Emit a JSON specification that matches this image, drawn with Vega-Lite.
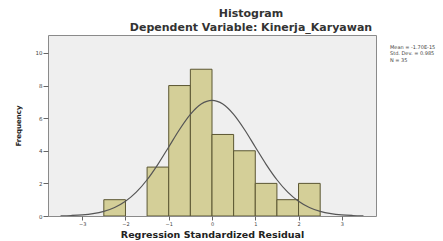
{
  "$schema": "https://vega.github.io/schema/vega-lite/v6.json",
  "width": 328,
  "height": 181,
  "autosize": {"type": "none"},
  "padding": {"left": 48, "top": 35, "right": 67, "bottom": 25},
  "background": "white",
  "view": {"fill": "#efefef", "stroke": "#8a8a8a", "strokeWidth": 1},
  "config": {
    "font": "DejaVu Sans",
    "axis": {"grid": false, "domain": false, "tickColor": "#666", "labelColor": "#444", "titleColor": "#222", "labelOverlap": false}
  },
  "title": {
    "text": "Histogram",
    "subtitle": "Dependent Variable: Kinerja_Karyawan",
    "anchor": "middle",
    "dx": 39,
    "offset": 2,
    "fontSize": 11,
    "fontWeight": "bold",
    "color": "#333",
    "subtitleFontSize": 11,
    "subtitleFontWeight": "bold",
    "subtitleColor": "#333",
    "subtitlePadding": 3
  },
  "datasets": {
    "bins": [
      {"start": -2.5, "end": -2.0, "count": 1},
      {"start": -1.5, "end": -1.0, "count": 3},
      {"start": -1.0, "end": -0.5, "count": 8},
      {"start": -0.5, "end": 0.0, "count": 9},
      {"start": 0.0, "end": 0.5, "count": 5},
      {"start": 0.5, "end": 1.0, "count": 4},
      {"start": 1.0, "end": 1.5, "count": 2},
      {"start": 1.5, "end": 2.0, "count": 1},
      {"start": 2.0, "end": 2.5, "count": 2}
    ],
    "curve": [
      {"x": -3.5, "y": 0.013},
      {"x": -3.25, "y": 0.032},
      {"x": -3.0, "y": 0.069},
      {"x": -2.75, "y": 0.144},
      {"x": -2.5, "y": 0.283},
      {"x": -2.25, "y": 0.521},
      {"x": -2.0, "y": 0.902},
      {"x": -1.75, "y": 1.462},
      {"x": -1.5, "y": 2.223},
      {"x": -1.25, "y": 3.169},
      {"x": -1.0, "y": 4.235},
      {"x": -0.75, "y": 5.306},
      {"x": -0.5, "y": 6.233},
      {"x": -0.25, "y": 6.865},
      {"x": 0.0, "y": 7.09},
      {"x": 0.25, "y": 6.865},
      {"x": 0.5, "y": 6.233},
      {"x": 0.75, "y": 5.306},
      {"x": 1.0, "y": 4.235},
      {"x": 1.25, "y": 3.169},
      {"x": 1.5, "y": 2.223},
      {"x": 1.75, "y": 1.462},
      {"x": 2.0, "y": 0.902},
      {"x": 2.25, "y": 0.521},
      {"x": 2.5, "y": 0.283},
      {"x": 2.75, "y": 0.144},
      {"x": 3.0, "y": 0.069},
      {"x": 3.25, "y": 0.032},
      {"x": 3.5, "y": 0.013}
    ],
    "stats": [
      {"stat": "Mean = -1.70E-15"},
      {"stat": "Std. Dev. = 0.985"},
      {"stat": "N = 35"}
    ]
  },
  "layer": [
    {
      "data": {"name": "bins"},
      "mark": {"type": "bar", "fill": "#d4cf98", "stroke": "#5b5632", "strokeWidth": 1, "clip": true},
      "encoding": {
        "x": {
          "field": "start", "type": "quantitative",
          "scale": {"domain": [-3.79, 3.79], "nice": false, "zero": false},
          "axis": {
            "values": [-3, -2, -1, 0, 1, 2, 3],
            "title": "Regression Standardized Residual",
            "titleFontSize": 9.5, "titleFontWeight": "bold", "titlePadding": 3,
            "labelFontSize": 5, "tickSize": 4, "labelPadding": 1, "labelOverlap": false
          }
        },
        "x2": {"field": "end"},
        "y": {
          "field": "count", "type": "quantitative",
          "scale": {"domain": [0, 11.1], "nice": false},
          "axis": {
            "values": [0, 2, 4, 6, 8, 10],
            "title": "Frequency",
            "titleFontSize": 7, "titleFontWeight": "bold", "titlePadding": 14,
            "labelFontSize": 5.5, "tickSize": 5, "labelPadding": 1, "labelOverlap": false
          }
        },
        "y2": {"datum": 0}
      }
    },
    {
      "data": {"name": "curve"},
      "mark": {"type": "line", "color": "#555555", "strokeWidth": 1.2, "interpolate": "monotone", "clip": true},
      "encoding": {
        "x": {
          "field": "x", "type": "quantitative",
          "axis": {
            "values": [-3, -2, -1, 0, 1, 2, 3],
            "title": "Regression Standardized Residual",
            "titleFontSize": 9.5, "titleFontWeight": "bold", "titlePadding": 3,
            "labelFontSize": 5, "tickSize": 4, "labelPadding": 1, "labelOverlap": false
          }
        },
        "y": {
          "field": "y", "type": "quantitative",
          "axis": {
            "values": [0, 2, 4, 6, 8, 10],
            "title": "Frequency",
            "titleFontSize": 7, "titleFontWeight": "bold", "titlePadding": 14,
            "labelFontSize": 5.5, "tickSize": 5, "labelPadding": 1, "labelOverlap": false
          }
        }
      }
    },
    {
      "data": {"name": "stats"},
      "mark": {"type": "point", "opacity": 0},
      "encoding": {
        "color": {
          "field": "stat", "type": "nominal",
          "scale": {"domain": ["Mean = -1.70E-15", "Std. Dev. = 0.985", "N = 35"], "range": ["#ffffff", "#ffffff", "#ffffff"]},
          "legend": {
            "title": null, "orient": "right", "offset": 0,
            "symbolSize": 0, "symbolOpacity": 0, "symbolStrokeWidth": 0,
            "labelFontSize": 5, "labelColor": "#444444", "labelOffset": 0,
            "rowPadding": 0.5, "padding": 9
          }
        }
      }
    }
  ]
}
